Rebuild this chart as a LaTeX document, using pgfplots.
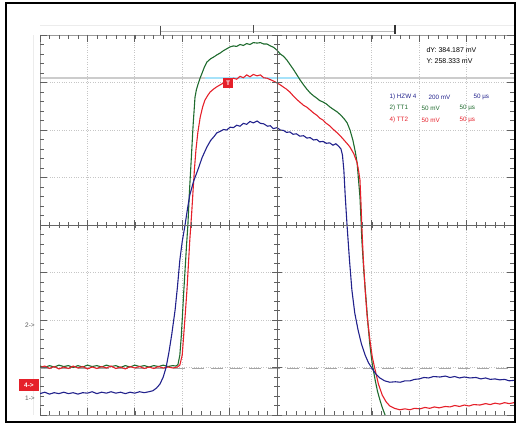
\documentclass[border=0pt]{standalone}
\usepackage{pgfplots}
\pgfplotsset{compat=1.18}
\usepackage{fontspec}
\setmainfont{Liberation Sans}
\definecolor{tblue}{HTML}{22228C}
\definecolor{tgreen}{HTML}{1F6B2E}
\definecolor{tred}{HTML}{E5202A}
\definecolor{gridc}{HTML}{9A9A9A}
\begin{document}
\begin{tikzpicture}[x=1pt,y=1pt]
\path (0,0) rectangle (518,-425);
% faint outer guides
\draw[gray!15, line width=0.6] (40,-25) -- (514,-25);
\draw[gray!15, line width=0.6] (33,-35) -- (33,-415);
% cursor line and dashed level
\draw[gray!40, line width=2.6] (40,-78) -- (514,-78);
\draw[cyan!35, line width=1.2] (205,-78) -- (300,-78);
\draw[gray!70, line width=0.9, dash pattern=on 12pt off 7pt] (40,-368) -- (514,-368);
\begin{axis}[at={(40pt,-415pt)}, anchor=south west, scale only axis,
  width=474pt, height=380pt, xmin=0, xmax=10, ymin=-4, ymax=4,
  xtick={0,...,10}, ytick={-4,...,4}, xticklabels={}, yticklabels={},
  major tick length=0pt, grid=major,
  major grid style={gray!45, dotted, line width=0.7pt},
  axis line style={gridc, line width=0.8pt}, clip=true]
\addplot[tgreen, line width=1.1pt] coordinates {
(0,-2.97) (0.1,-3.0) (0.2,-2.96) (0.3,-2.99) (0.4,-2.95) (0.5,-2.98) (0.6,-2.96) (0.7,-3.0) (0.8,-2.96) (0.9,-2.99) (1.0,-2.95) (1.1,-2.98) (1.2,-2.96) (1.3,-2.99) (1.4,-2.95) (1.5,-2.98) (1.6,-2.96) (1.7,-3.0) (1.8,-2.96) (1.9,-2.99) (2.0,-2.95) (2.1,-2.98) (2.2,-2.96) (2.3,-2.99) (2.4,-2.96) (2.5,-2.98) (2.6,-2.95) (2.7,-2.98) (2.8,-2.96) (2.87,-2.97) (2.91,-2.94) (2.95,-2.74) (2.98,-2.35) (3.0,-2.0) (3.03,-1.45) (3.06,-0.95) (3.09,-0.45) (3.12,0) (3.15,0.65) (3.19,1.37) (3.23,2.1) (3.27,2.69) (3.3,2.85) (3.33,2.95) (3.38,3.1) (3.42,3.20) (3.47,3.33) (3.52,3.43) (3.6,3.5) (3.67,3.54) (3.73,3.58) (3.8,3.62) (3.87,3.67) (3.94,3.71) (4.01,3.75) (4.08,3.77) (4.15,3.76) (4.22,3.80) (4.29,3.78) (4.36,3.82) (4.43,3.80) (4.5,3.84) (4.58,3.83) (4.65,3.84) (4.72,3.81) (4.79,3.81) (4.86,3.77) (4.93,3.74) (5.0,3.68) (5.07,3.6) (5.14,3.55) (5.21,3.47) (5.28,3.37) (5.35,3.27) (5.42,3.16) (5.49,3.05) (5.56,2.95) (5.63,2.86) (5.7,2.78) (5.77,2.72) (5.84,2.67) (5.9,2.62) (5.97,2.59) (6.04,2.55) (6.11,2.49) (6.18,2.44) (6.27,2.38) (6.35,2.31) (6.42,2.23) (6.48,2.15) (6.54,2.0) (6.6,1.79) (6.65,1.55) (6.69,1.31) (6.72,0.95) (6.75,0.59) (6.77,0.15) (6.79,-0.32) (6.83,-0.95) (6.88,-1.58) (6.92,-2.1) (6.96,-2.53) (7.01,-2.93) (7.07,-3.26) (7.12,-3.5) (7.17,-3.68) (7.22,-3.84) (7.28,-4.0)
};
\addplot[tred, line width=1.1pt] coordinates {
(0,-3.0) (0.1,-2.97) (0.2,-3.02) (0.3,-2.98) (0.4,-3.03) (0.5,-2.99) (0.6,-3.02) (0.7,-2.97) (0.8,-3.01) (0.9,-2.98) (1.0,-3.03) (1.1,-2.99) (1.2,-3.02) (1.3,-2.98) (1.4,-3.01) (1.5,-2.97) (1.6,-3.02) (1.7,-2.99) (1.8,-3.03) (1.9,-2.98) (2.0,-3.01) (2.1,-2.98) (2.2,-3.02) (2.3,-2.99) (2.4,-3.02) (2.5,-2.98) (2.6,-3.01) (2.7,-2.99) (2.8,-3.01) (2.9,-2.99) (2.95,-2.95) (3.0,-2.74) (3.04,-2.21) (3.07,-1.8) (3.10,-1.37) (3.13,-0.85) (3.16,-0.32) (3.2,0.25) (3.23,0.74) (3.26,1.2) (3.29,1.58) (3.33,1.95) (3.38,2.27) (3.43,2.48) (3.48,2.63) (3.54,2.73) (3.59,2.80) (3.66,2.86) (3.73,2.91) (3.80,2.95) (3.87,2.99) (3.94,3.01) (4.01,3.05) (4.08,3.09) (4.15,3.07) (4.22,3.13) (4.29,3.1) (4.36,3.16) (4.43,3.12) (4.5,3.17) (4.58,3.14) (4.65,3.16) (4.72,3.1) (4.79,3.09) (4.86,3.06) (4.93,3.03) (5.0,2.99) (5.07,2.95) (5.14,2.9) (5.2,2.86) (5.27,2.80) (5.35,2.71) (5.42,2.64) (5.49,2.58) (5.56,2.52) (5.63,2.48) (5.7,2.42) (5.77,2.36) (5.84,2.31) (5.9,2.25) (5.97,2.21) (6.04,2.14) (6.11,2.09) (6.18,2.02) (6.27,1.94) (6.35,1.86) (6.43,1.77) (6.5,1.69) (6.54,1.64) (6.62,1.5) (6.69,1.31) (6.72,1.15) (6.75,0.95) (6.77,0.5) (6.79,-0.04) (6.82,-0.7) (6.86,-1.37) (6.9,-1.9) (6.96,-2.42) (7.01,-2.78) (7.07,-3.05) (7.14,-3.35) (7.22,-3.58) (7.3,-3.72) (7.38,-3.81) (7.48,-3.86) (7.59,-3.89) (7.7,-3.87) (7.8,-3.89) (7.9,-3.86) (8.02,-3.87) (8.12,-3.84) (8.22,-3.86) (8.32,-3.83) (8.42,-3.85) (8.55,-3.82) (8.65,-3.83) (8.75,-3.8) (8.85,-3.82) (8.95,-3.79) (9.05,-3.81) (9.15,-3.78) (9.28,-3.79) (9.4,-3.76) (9.5,-3.78) (9.6,-3.75) (9.7,-3.77) (9.8,-3.74) (9.9,-3.76) (10,-3.74)
};
\addplot[tblue, line width=1.1pt] coordinates {
(0,-3.55) (0.1,-3.52) (0.2,-3.56) (0.3,-3.53) (0.4,-3.55) (0.5,-3.52) (0.6,-3.55) (0.7,-3.53) (0.8,-3.56) (0.9,-3.53) (1.0,-3.54) (1.1,-3.51) (1.2,-3.55) (1.3,-3.52) (1.4,-3.54) (1.5,-3.51) (1.6,-3.54) (1.7,-3.52) (1.8,-3.55) (1.9,-3.52) (2.0,-3.54) (2.1,-3.51) (2.2,-3.53) (2.3,-3.51) (2.38,-3.49) (2.46,-3.43) (2.53,-3.35) (2.6,-3.2) (2.66,-3.0) (2.72,-2.68) (2.78,-2.3) (2.85,-1.79) (2.9,-1.3) (2.95,-0.74) (3.0,-0.35) (3.06,0) (3.11,0.33) (3.16,0.63) (3.24,0.92) (3.33,1.16) (3.42,1.42) (3.52,1.64) (3.6,1.78) (3.67,1.86) (3.73,1.94) (3.8,1.97) (3.87,2.01) (3.94,2.0) (4.01,2.06) (4.08,2.05) (4.15,2.1) (4.22,2.08) (4.29,2.14) (4.36,2.12) (4.43,2.18) (4.5,2.15) (4.58,2.19) (4.65,2.14) (4.72,2.13) (4.8,2.08) (4.86,2.09) (4.92,2.03) (5.0,2.05) (5.07,2.0) (5.14,1.99) (5.2,1.95) (5.27,1.96) (5.34,1.91) (5.41,1.92) (5.48,1.87) (5.56,1.88) (5.63,1.83) (5.7,1.84) (5.77,1.79) (5.84,1.8) (5.9,1.75) (5.97,1.76) (6.04,1.72) (6.11,1.73) (6.18,1.68) (6.24,1.71) (6.3,1.66) (6.35,1.6) (6.38,1.48) (6.41,1.16) (6.44,0.6) (6.48,-0.04) (6.53,-0.75) (6.58,-1.37) (6.64,-1.85) (6.71,-2.21) (6.78,-2.5) (6.86,-2.74) (6.93,-2.9) (7.0,-3.01) (7.08,-3.13) (7.17,-3.22) (7.27,-3.28) (7.38,-3.31) (7.5,-3.3) (7.6,-3.31) (7.7,-3.28) (7.81,-3.28) (7.9,-3.25) (8.0,-3.24) (8.1,-3.21) (8.2,-3.22) (8.3,-3.19) (8.44,-3.2) (8.55,-3.18) (8.65,-3.21) (8.75,-3.19) (8.85,-3.22) (8.95,-3.2) (9.07,-3.22) (9.2,-3.21) (9.3,-3.24) (9.4,-3.22) (9.5,-3.25) (9.6,-3.24) (9.7,-3.26) (9.8,-3.25) (9.9,-3.28) (10,-3.27)
};
\end{axis}
% center cross
\draw[gray!80!black, line width=0.8] (40,-225) -- (514,-225);
\draw[gray!80!black, line width=0.8] (277,-35) -- (277,-415);
% minor ticks
\foreach \i in {0,...,50} {
  \draw[gray!75!black, line width=0.6] ({40+9.48*\i},-35) -- ++(0,-4);
  \draw[gray!75!black, line width=0.6] ({40+9.48*\i},-415) -- ++(0,4);
  \draw[gray!75!black, line width=0.6] ({40+9.48*\i},-222) -- ++(0,-6);
}
\foreach \j in {0,...,40} {
  \draw[gray!75!black, line width=0.6] (40,{-35-9.5*\j}) -- ++(4,0);
  \draw[gray!75!black, line width=0.6] (514,{-35-9.5*\j}) -- ++(-4,0);
  \draw[gray!75!black, line width=0.6] (274,{-35-9.5*\j}) -- ++(6,0);
}
% major ticks
\foreach \i in {0,...,10} {
  \draw[gray!75!black, line width=0.7] ({40+47.4*\i},-35) -- ++(0,-7);
  \draw[gray!75!black, line width=0.7] ({40+47.4*\i},-415) -- ++(0,7);
  \draw[gray!75!black, line width=0.7] ({40+47.4*\i},-220) -- ++(0,-10);
}
\foreach \j in {0,...,8} {
  \draw[gray!75!black, line width=0.7] (40,{-35-47.5*\j}) -- ++(7,0);
  \draw[gray!75!black, line width=0.7] (514,{-35-47.5*\j}) -- ++(-7,0);
  \draw[gray!75!black, line width=0.7] (272,{-35-47.5*\j}) -- ++(10,0);
}
% top ruler
\draw[gray!55, line width=0.9] (160,-31) -- (395,-31);
\draw[gray!60!black, line width=0.9] (160,-26) -- (160,-35);
\draw[gray!60!black, line width=0.9] (253,-25) -- (253,-33);
\draw[black!80, line width=1.1] (395,-25) -- (395,-34);
% trigger marker
\node[fill=tred, text=white, inner sep=0.8pt, minimum size=10pt, font=\bfseries\fontsize{6.5}{6.5}\selectfont] at (228,-83) {T};
% channel markers at left
\node[text=black!65, font=\fontsize{6.5}{7}\selectfont] at (30,-325) {2->};
\node[fill=tred, text=white, inner sep=1pt, minimum width=20pt, minimum height=12pt, font=\bfseries\fontsize{6.5}{7}\selectfont] at (29,-385) {4->};
\node[text=black!65, font=\fontsize{6.5}{7}\selectfont] at (30,-398) {1->};
% readouts
\node[anchor=west, font=\fontsize{7}{8}\selectfont] at (423,-50) {dY: 384.187 mV};
\node[anchor=west, font=\fontsize{7}{8}\selectfont] at (423,-61) {Y: 258.333 mV};
\begin{scope}[font=\fontsize{6.3}{7}\selectfont]
\node[anchor=west, text=tblue] at (386,-97) {1) HZW 4};
\node[anchor=west, text=tblue] at (425,-97) {200 mV};
\node[anchor=west, text=tblue] at (470,-97) {50 µs};
\node[anchor=west, text=tgreen] at (386,-108) {2) TT1};
\node[anchor=west, text=tgreen] at (418,-108) {50 mV};
\node[anchor=west, text=tgreen] at (456,-108) {50 µs};
\node[anchor=west, text=tred] at (386,-120) {4) TT2};
\node[anchor=west, text=tred] at (418,-120) {50 mV};
\node[anchor=west, text=tred] at (456,-120) {50 µs};
\end{scope}
% outer frame
\draw[black, line width=1.8] (6,-3) rectangle (515,-422);
\end{tikzpicture}
\end{document}
